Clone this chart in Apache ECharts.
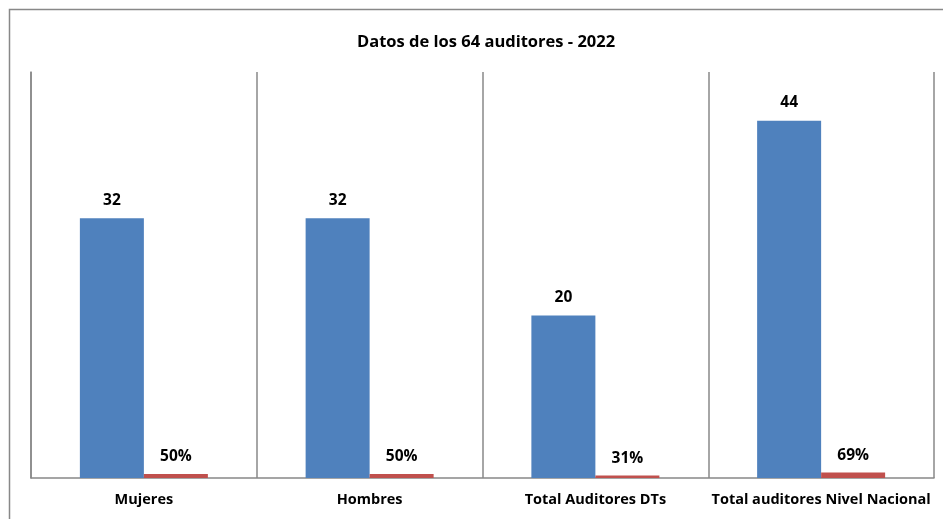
<!DOCTYPE html>
<html>
<head>
<meta charset="utf-8">
<script src="https://cdn.jsdelivr.net/npm/echarts@6/dist/echarts.min.js"></script>
<style>html,body{margin:0;padding:0;background:#fff}#c{width:943px;height:519px}</style>
</head>
<body>
<div id="c"></div>
<script>
const categories = ['Mujeres', 'Hombres', 'Total Auditores DTs', 'Total auditores Nivel Nacional'];
const counts = [32, 32, 20, 44];
const shares = [0.50, 0.50, 0.31, 0.69];
const titleText = 'Datos de los 64 auditores - 2022';

const FONT = '"Open Sans", Lato, sans-serif';
const chart = echarts.init(document.getElementById('c'));
chart.setOption({
  animation: false,
  backgroundColor: '#fff',
  title: {
    text: titleText, left: 352, top: 29,
    textStyle: { fontFamily: FONT, fontSize: 16.5, fontWeight: 'bold', color: '#000' }
  },
  graphic: [{
    type: 'rect', shape: { x: 9.5, y: 9.5, width: 940, height: 520 },
    style: { fill: 'none', stroke: '#888', lineWidth: 1.5 }, silent: true
  }],
  grid: { left: 31, right: 9, top: 72, bottom: 41, containLabel: false },
  xAxis: {
    type: 'category', data: categories,
    axisLine: { lineStyle: { color: '#888', width: 1.5 } },
    axisTick: { show: false },
    splitLine: { show: true, lineStyle: { color: '#888', width: 1.5 } },
    axisLabel: { fontFamily: FONT, fontSize: 14.5, fontWeight: 'bold', color: '#000', margin: 14, interval: 0 }
  },
  yAxis: {
    type: 'value', min: 0, max: 50, show: true,
    axisLine: { show: true, lineStyle: { color: '#888', width: 1.5 } },
    axisLabel: { show: false }, axisTick: { show: false }, splitLine: { show: false }
  },
  series: [
    {
      type: 'bar', data: counts, barWidth: 64, barGap: '0%',
      itemStyle: { color: '#4f81bd' },
      label: { show: true, position: 'top', distance: 10, fontFamily: FONT, fontSize: 15.5, fontWeight: 'bold', color: '#000' }
    },
    {
      type: 'bar', data: shares, barWidth: 64, barGap: '0%',
      itemStyle: { color: '#c0504d' },
      label: { show: true, position: 'top', distance: 9, fontFamily: FONT, fontSize: 15.5, fontWeight: 'bold', color: '#000',
        formatter: p => Math.round(p.value * 100) + '%' }
    }
  ]
});
</script>
</body>
</html>
